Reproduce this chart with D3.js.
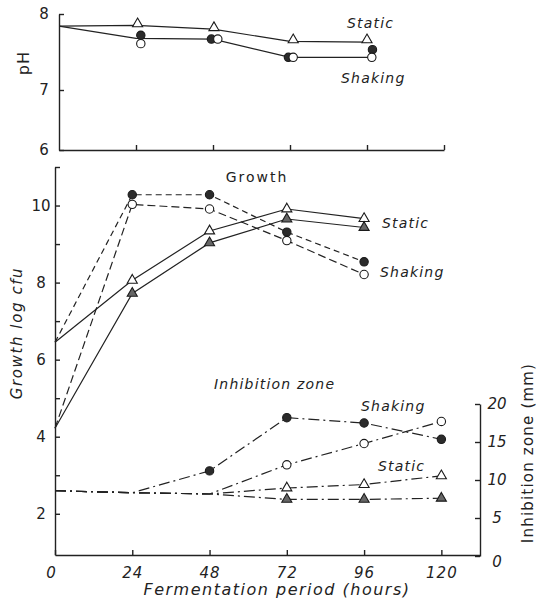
<!DOCTYPE html>
<html lang="en">

<head>
    <meta charset="UTF-8">
    <title>Fermentation period</title>
    <script src="https://d3js.org/d3.v7.min.js"></script>
    <style>
        body {
            margin: 0;
            background: #fff;
        }

        text {
            font-family: "DejaVu Sans", sans-serif;
            fill: #222;
        }

        .lbl {
            font-style: italic;
            font-size: 14px;
            letter-spacing: 1.2px;
        }

        .axis path,
        .axis line {
            stroke: #222;
            stroke-width: 1.4px;
            fill: none;
        }

        .series {
            fill: none;
            stroke: #222;
            stroke-width: 1.2px;
        }
    </style>
</head>

<body>
    <script>

        // ---- pH (top panel) ----
        const phHours = [0, 24, 48, 72, 96];
        const phStatic = [7.84, 7.85, 7.80, 7.64, 7.63];
        const phShakingHours = [0, 24, 48, 72, 97.5];
        const phShaking = [7.84, 7.68, 7.67, 7.43, 7.43];
        const phTriHours = [24.5, 48.3, 73, 96];
        const phTri = [7.87, 7.82, 7.66, 7.66];
        const phOpenHours = [25.5, 49.5, 73, 97.5];
        const phOpen = [7.61, 7.67, 7.43, 7.43];
        const phFilledHours = [25.5, 47.5, 71.5, 97.7];
        const phFilled = [7.72, 7.67, 7.43, 7.53];
        const phTicks = [6, 7, 8];

        // ---- growth (log cfu) ----
        const growthHours = [0, 24, 48, 72, 96];
        const growthStaticOpen = [6.45, 8.06, 9.34, 9.91, 9.66];
        const growthStaticFilled = [4.22, 7.72, 9.03, 9.65, 9.43];
        const growthShakeFilled = [6.45, 10.28, 10.28, 9.31, 8.54];
        const growthShakeOpen = [4.22, 10.03, 9.91, 9.09, 8.21];
        const growthTicks = [2, 3, 4, 5, 6, 7, 8, 9, 10, 11];

        // ---- inhibition zone (mm) ----
        const inhHours = [0, 24, 48, 72, 96, 120];
        const inhShakeFilled = [8.59, 8.33, 11.2, 18.2, 17.5, 15.35];
        const inhShakeOpen = [8.59, 8.33, 8.16, 12.0, 14.8, 17.7];
        const inhStaticOpen = [8.59, 8.33, 8.16, 8.95, 9.4, 10.55];
        const inhStaticFilled = [8.59, 8.33, 8.16, 7.45, 7.45, 7.6];
        const inhTicks = [0, 5, 10, 15, 20];

        const hourTicks = [0, 24, 48, 72, 96, 120];

        const svg = d3.select("body").append("svg")
            .attr("width", 537)
            .attr("height", 599);

        // scales
        const xTop = d3.scaleLinear().domain([0, 120]).range([59, 444]);
        const yPH = d3.scaleLinear().domain([6, 7, 8]).range([150, 90, 14]);

        const xBot = d3.scaleLinear().domain([0, 132]).range([55, 480]);
        const yGrowth = d3.scaleLinear().domain([0.93, 11]).range([555, 167]);
        const yInh = d3.scaleLinear().domain([0, 20]).range([556, 404]);

        // ---- axes ----
        svg.append("g").attr("class", "axis")
            .attr("transform", "translate(0,150)")
            .call(d3.axisBottom(xTop).tickValues([24, 48, 72, 96, 120])
                .tickSize(-5).tickSizeOuter(0).tickFormat(""));

        const phAxis = svg.append("g").attr("class", "axis")
            .attr("transform", "translate(59,0)")
            .call(d3.axisLeft(yPH).tickValues(phTicks).tickFormat(d3.format("d"))
                .tickSize(-5).tickSizeOuter(0).tickPadding(10));
        phAxis.selectAll("text").style("font-size", "15px").attr("text-anchor", "middle").attr("x", -15);

        const xAxis = svg.append("g").attr("class", "axis")
            .attr("transform", "translate(0,555)")
            .call(d3.axisBottom(xBot).tickValues(hourTicks).tickSize(-5).tickSizeOuter(0));
        xAxis.selectAll("text")
            .attr("y", 12).attr("dy", "0.71em")
            .style("font-size", "15px").style("font-style", "italic").style("letter-spacing", "1px");
        xAxis.selectAll(".tick").filter(d => d === 0).select("text").attr("x", -4);

        const gAxis = svg.append("g").attr("class", "axis")
            .attr("transform", "translate(55,0)")
            .call(d3.axisLeft(yGrowth).tickValues(growthTicks).tickSize(-5).tickSizeOuter(0)
                .tickFormat(d => (d % 2 === 0 && d <= 10) ? d : ""));
        gAxis.selectAll("text").style("font-size", "15px").attr("text-anchor", "middle").attr("x", -14);

        const rAxis = svg.append("g").attr("class", "axis")
            .attr("transform", "translate(480,0)")
            .call(d3.axisRight(yInh).tickValues(inhTicks).tickSize(-5).tickSizeOuter(0));
        rAxis.selectAll("text").style("font-size", "15px").style("font-style", "italic")
            .attr("text-anchor", "middle").attr("x", 17);
        rAxis.selectAll(".tick").filter(d => d === 0).select("text").attr("y", 6);

        // ---- helpers ----
        function drawLine(xs, ys, xScale, yScale, dash) {
            const pts = xs.map((h, i) => [h, ys[i]]);
            svg.append("path")
                .datum(pts)
                .attr("class", "series")
                .attr("stroke-dasharray", dash || null)
                .attr("d", d3.line().x(d => xScale(d[0])).y(d => yScale(d[1])));
        }

        function drawMarks(xs, ys, xScale, yScale, kind) {
            const pts = xs.map((h, i) => [h, ys[i]]);
            const isTri = kind.indexOf("tri") >= 0;
            const filled = kind.indexOf("filled") >= 0;
            const sym = d3.symbol().type(isTri ? d3.symbolTriangle : d3.symbolCircle).size(isTri ? 44 : 55);
            svg.append("g").selectAll("path")
                .data(pts)
                .join("path")
                .attr("transform", d => "translate(" + xScale(d[0]) + "," + yScale(d[1]) + ")")
                .attr("d", sym)
                .attr("fill", filled ? (isTri ? "#666" : "#2b2b2b") : "#fff")
                .attr("stroke", "#1a1a1a")
                .attr("stroke-width", 1.1);
        }

        // ---- pH panel ----
        drawLine(phHours, phStatic, xTop, yPH);
        drawLine(phShakingHours, phShaking, xTop, yPH);
        drawMarks(phTriHours, phTri, xTop, yPH, "open-tri");
        drawMarks(phFilledHours, phFilled, xTop, yPH, "filled-circle");
        drawMarks(phOpenHours, phOpen, xTop, yPH, "open-circle");

        // ---- growth ----
        drawLine(growthHours, growthStaticOpen, xBot, yGrowth);
        drawLine(growthHours, growthStaticFilled, xBot, yGrowth);
        drawLine(growthHours, growthShakeFilled, xBot, yGrowth, "6,4");
        drawLine(growthHours, growthShakeOpen, xBot, yGrowth, "8,4");
        drawMarks(growthHours.slice(1), growthStaticOpen.slice(1), xBot, yGrowth, "open-tri");
        drawMarks(growthHours.slice(1), growthStaticFilled.slice(1), xBot, yGrowth, "filled-tri");
        drawMarks(growthHours.slice(1), growthShakeFilled.slice(1), xBot, yGrowth, "filled-circle");
        drawMarks(growthHours.slice(1), growthShakeOpen.slice(1), xBot, yGrowth, "open-circle");

        // ---- inhibition zone ----
        const dd = "11,4,2,4";
        drawLine(inhHours, inhShakeFilled, xBot, yInh, dd);
        drawLine(inhHours, inhShakeOpen, xBot, yInh, dd);
        drawLine(inhHours, inhStaticOpen, xBot, yInh, dd);
        drawLine(inhHours, inhStaticFilled, xBot, yInh, dd);
        drawMarks(inhHours.slice(2), inhShakeFilled.slice(2), xBot, yInh, "filled-circle");
        drawMarks(inhHours.slice(3), inhShakeOpen.slice(3), xBot, yInh, "open-circle");
        drawMarks(inhHours.slice(3), inhStaticOpen.slice(3), xBot, yInh, "open-tri");
        drawMarks(inhHours.slice(3), inhStaticFilled.slice(3), xBot, yInh, "filled-tri");

        // ---- labels ----
        function label(txt, x, y, cls, anchor) {
            return svg.append("text")
                .attr("class", cls || "lbl")
                .attr("x", x).attr("y", y)
                .attr("text-anchor", anchor || "start")
                .text(txt);
        }

        label("Static", 347, 28);
        label("Shaking", 341, 83);
        label("Growth", 257, 182, "lbl", "middle")
            .style("font-style", "normal").style("font-size", "14px").style("letter-spacing", "2px");
        label("Static", 382, 228);
        label("Shaking", 380, 277);
        label("Inhibition zone", 214, 389);
        label("Shaking", 361, 411);
        label("Static", 378, 471);

        label("pH", 0, 0, "lbl", "middle")
            .attr("transform", "translate(29,63) rotate(-90)")
            .style("font-style", "normal").style("font-size", "16px");
        label("Growth log cfu", 0, 0, "lbl", "middle")
            .attr("transform", "translate(22,333) rotate(-90)")
            .style("font-size", "15px").style("letter-spacing", "1.6px");
        label("Inhibition zone (mm)", 0, 0, "lbl", "middle")
            .attr("transform", "translate(533,453) rotate(-90)")
            .style("font-style", "normal").style("font-size", "15px").style("letter-spacing", "1.2px");
        label("Fermentation period (hours)", 277, 595, "lbl", "middle")
            .style("font-size", "16px").style("letter-spacing", "1.5px");

    </script>
</body>

</html>
